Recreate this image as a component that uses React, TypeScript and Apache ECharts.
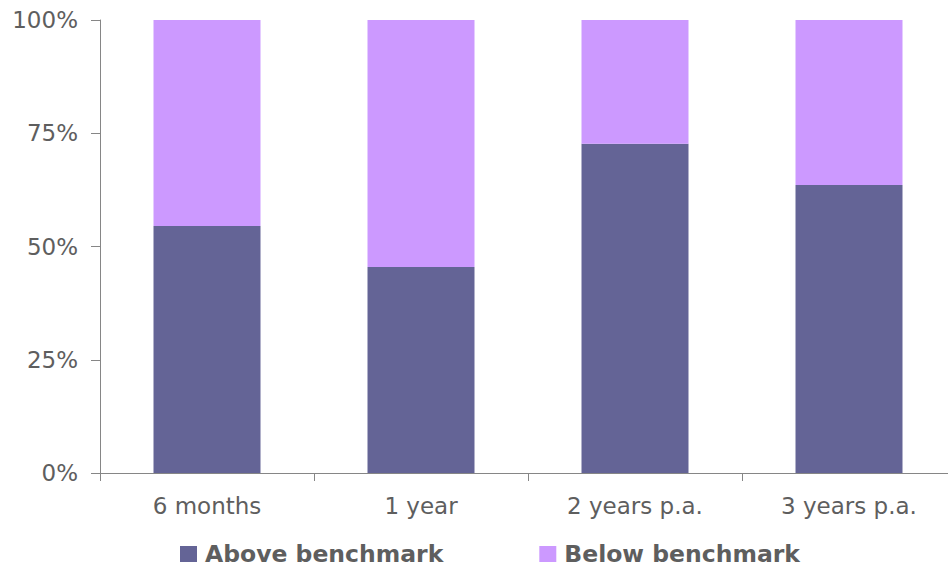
import React, { useEffect, useRef } from "react";
import * as echarts from "echarts";

const categories = ["6 months", "1 year", "2 years p.a.", "3 years p.a."];
const aboveBenchmark = [54.5, 45.5, 72.7, 63.6];
const belowBenchmark = [45.5, 54.5, 27.3, 36.4];
const yTicks = { min: 0, max: 100, interval: 25 };

const DARK = "#646496";
const LIGHT = "#CC99FF";
const TEXT = "#5E5E5E";
const AXIS = "#868686";
const FONT = "DejaVu Sans";

export default function App() {
  const ref = useRef<HTMLDivElement>(null);
  useEffect(() => {
    if (!ref.current) return;
    const chart = echarts.init(ref.current, undefined, { renderer: "svg" });
    chart.setOption({
      animation: false,
      backgroundColor: "#ffffff",
      grid: { left: 100, top: 20, width: 856, height: 453, containLabel: false },
      legend: {
        left: 175,
        top: 537,
        itemWidth: 17,
        itemHeight: 16,
        itemGap: 96,
        icon: "rect",
        textStyle: {
          fontFamily: FONT,
          fontSize: 23.5,
          lineHeight: 20,
          fontWeight: "bold",
          color: TEXT,
          padding: [0, 0, 0, 3],
        },
        data: ["Above benchmark", "Below benchmark"],
      },
      xAxis: {
        type: "category",
        data: categories,
        axisLine: { show: true, lineStyle: { color: AXIS, width: 1 } },
        axisTick: { show: true, length: 8, lineStyle: { color: AXIS } },
        axisLabel: { fontFamily: FONT, fontSize: 23, color: TEXT, margin: 21 },
        splitLine: { show: false },
      },
      yAxis: {
        type: "value",
        min: yTicks.min,
        max: yTicks.max,
        interval: yTicks.interval,
        axisLine: { show: true, lineStyle: { color: AXIS, width: 1 } },
        axisTick: { show: true, length: 9, lineStyle: { color: AXIS } },
        axisLabel: {
          fontFamily: FONT,
          fontSize: 23,
          color: TEXT,
          margin: 22,
          formatter: "{value}%",
        },
        splitLine: { show: false },
      },
      series: [
        {
          name: "Above benchmark",
          type: "bar",
          stack: "total",
          barWidth: "50%",
          itemStyle: { color: DARK },
          data: aboveBenchmark,
        },
        {
          name: "Below benchmark",
          type: "bar",
          stack: "total",
          barWidth: "50%",
          itemStyle: { color: LIGHT },
          data: belowBenchmark,
        },
      ],
    });
    return () => chart.dispose();
  }, []);
  return (
    <div
      style={{
        position: "absolute",
        left: 0,
        top: 0,
        width: 948,
        height: 570,
        overflow: "hidden",
        background: "#ffffff",
      }}
    >
      <div ref={ref} style={{ width: 964, height: 570 }} />
    </div>
  );
}
